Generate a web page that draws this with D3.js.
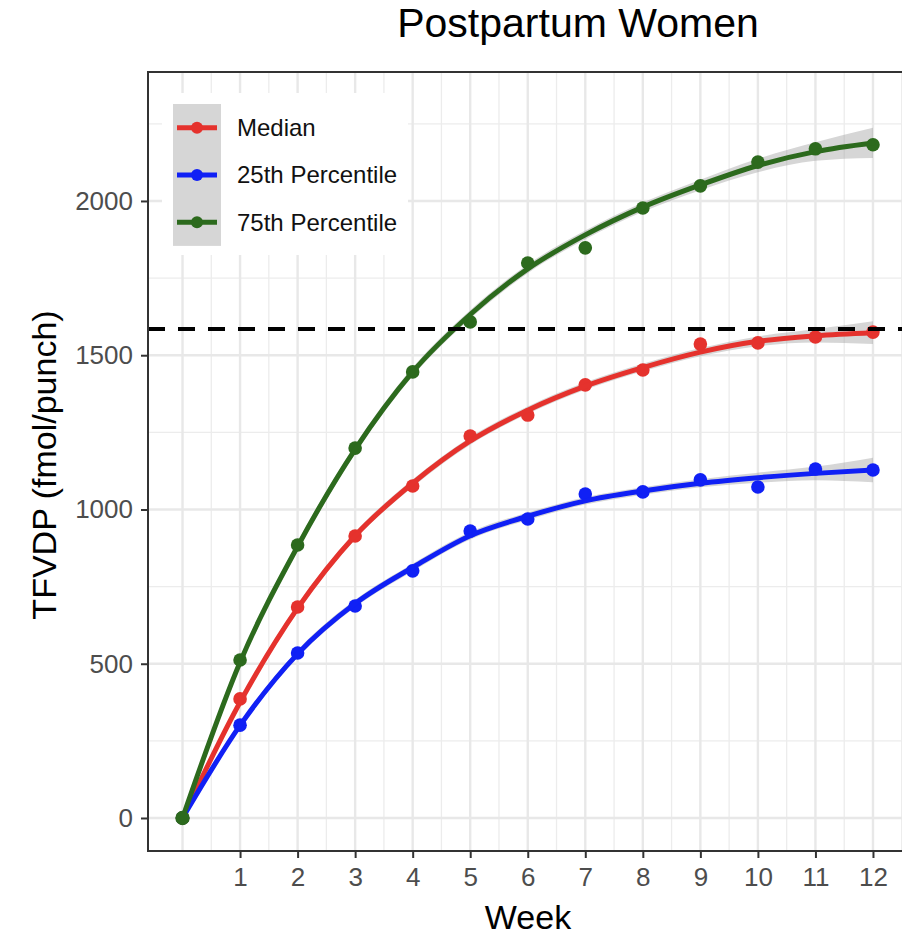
<!DOCTYPE html>
<html>
<head>
<meta charset="utf-8">
<script src="https://cdn.jsdelivr.net/npm/d3@7"></script>
<style>
  html, body { margin: 0; padding: 0; background: #fff; }
  svg { display: block; }
  text { font-family: "Liberation Sans", Arial, Helvetica, sans-serif; }
</style>
</head>
<body>
<svg id="chart" width="902" height="937"></svg>
<script>
// ---- data ----
const weeks = [0, 1, 2, 3, 4, 5, 6, 7, 8, 9, 10, 11, 12];
const xTickWeeks = [1, 2, 3, 4, 5, 6, 7, 8, 9, 10, 11, 12];
const yTicks = [0, 500, 1000, 1500, 2000];
const seriesNames = ["Median", "25th Percentile", "75th Percentile"];

// observed points
const medianPts = [0, 386, 684, 914, 1076, 1238, 1306, 1404, 1452, 1536, 1540, 1559, 1575];
const p25Pts    = [0, 301, 535, 687, 801, 930, 969, 1050, 1057, 1096, 1073, 1131, 1128];
const p75Pts    = [0, 512, 885, 1199, 1446, 1608, 1799, 1848, 1977, 2049, 2126, 2169, 2182];

// fitted (smooth) curves
const medianFit = [0, 375, 680, 915, 1085, 1222, 1322, 1400, 1460, 1510, 1545, 1563, 1573];
const p25Fit    = [0, 300, 532, 695, 812, 915, 978, 1028, 1060, 1085, 1103, 1117, 1128];
const p75Fit    = [0, 505, 880, 1195, 1446, 1632, 1780, 1890, 1980, 2052, 2115, 2160, 2188];

// standard-error band half widths
const medianSE = [0, 10, 12, 12, 12, 12, 12, 12, 12, 13, 16, 22, 37];
const p25SE    = [0, 10, 12, 12, 12, 12, 12, 12, 12, 13, 16, 22, 40];
const p75SE    = [0, 12, 14, 14, 14, 14, 14, 14, 15, 17, 22, 30, 49];

const referenceLevel = 1585;

const colors = ["#e5322d", "#1020f5", "#2c6a1d"];

// ---- layout ----
const svg = d3.select("#chart");
const panel = { left: 148, right: 907.5, top: 72, bottom: 851 };

const x = d3.scaleLinear().domain([-0.6, 12.6]).range([panel.left, panel.right]);
const y = d3.scaleLinear().domain([-107, 2418]).range([panel.bottom, panel.top]);

const defs = svg.append("defs");
defs.append("clipPath").attr("id", "clip")
  .append("rect")
  .attr("x", panel.left).attr("y", panel.top)
  .attr("width", panel.right - panel.left).attr("height", panel.bottom - panel.top);

// panel background
svg.append("rect")
  .attr("x", panel.left).attr("y", panel.top)
  .attr("width", panel.right - panel.left).attr("height", panel.bottom - panel.top)
  .attr("fill", "#fff");

const grid = svg.append("g").attr("clip-path", "url(#clip)");
const xMinorVals = d3.range(0.5, 13, 1);
const yMinorVals = d3.range(250, 2500, 500);
grid.selectAll(".xminor").data(xMinorVals).join("line")
  .attr("x1", d => x(d)).attr("x2", d => x(d))
  .attr("y1", panel.top).attr("y2", panel.bottom)
  .attr("stroke", "#ececec").attr("stroke-width", 1.3);
grid.selectAll(".yminor").data(yMinorVals).join("line")
  .attr("y1", d => y(d)).attr("y2", d => y(d))
  .attr("x1", panel.left).attr("x2", panel.right)
  .attr("stroke", "#ececec").attr("stroke-width", 1.3);
grid.selectAll(".xmajor").data([0].concat(xTickWeeks)).join("line")
  .attr("x1", d => x(d)).attr("x2", d => x(d))
  .attr("y1", panel.top).attr("y2", panel.bottom)
  .attr("stroke", "#e8e8e8").attr("stroke-width", 2.4);
grid.selectAll(".ymajor").data(yTicks).join("line")
  .attr("y1", d => y(d)).attr("y2", d => y(d))
  .attr("x1", panel.left).attr("x2", panel.right)
  .attr("stroke", "#e8e8e8").attr("stroke-width", 2.4);

// ---- series ----
const series = [
  { name: seriesNames[0], pts: medianPts, fit: medianFit, se: medianSE, color: colors[0] },
  { name: seriesNames[1], pts: p25Pts, fit: p25Fit, se: p25SE, color: colors[1] },
  { name: seriesNames[2], pts: p75Pts, fit: p75Fit, se: p75SE, color: colors[2] }
];

const plot = svg.append("g").attr("clip-path", "url(#clip)");

const area = d3.area()
  .x((d, i) => x(weeks[i]))
  .y0(d => y(d[0] - d[1]))
  .y1(d => y(d[0] + d[1]))
  .curve(d3.curveMonotoneX);
const line = d3.line()
  .x((d, i) => x(weeks[i]))
  .y(d => y(d))
  .curve(d3.curveMonotoneX);

series.forEach(s => {
  plot.append("path")
    .datum(s.fit.map((f, i) => [f, s.se[i]]))
    .attr("d", area)
    .attr("fill", "#999999").attr("fill-opacity", 0.4);
});
series.forEach(s => {
  plot.append("g").selectAll("circle").data(s.pts).join("circle")
    .attr("cx", (d, i) => x(weeks[i]))
    .attr("cy", d => y(d))
    .attr("r", 6.8)
    .attr("fill", s.color);
});
series.forEach(s => {
  plot.append("path")
    .datum(s.fit)
    .attr("d", line)
    .attr("fill", "none")
    .attr("stroke", s.color)
    .attr("stroke-width", 5)
    .attr("stroke-linecap", "round");
});
plot.append("circle")
  .attr("cx", x(weeks[0])).attr("cy", y(p75Pts[0])).attr("r", 7.2)
  .attr("fill", colors[2]);

// reference dashed line
plot.append("line")
  .attr("x1", panel.left).attr("x2", panel.right)
  .attr("y1", y(referenceLevel)).attr("y2", y(referenceLevel))
  .attr("stroke", "#000").attr("stroke-width", 4)
  .attr("stroke-dasharray", "17,13");

// panel border
svg.append("rect")
  .attr("x", panel.left).attr("y", panel.top)
  .attr("width", panel.right - panel.left).attr("height", panel.bottom - panel.top)
  .attr("fill", "none").attr("stroke", "#333").attr("stroke-width", 2);

// ---- axes ----
const xAxis = d3.axisBottom(x).tickValues(xTickWeeks).tickSize(7).tickPadding(10).tickFormat(d3.format("d"));
const gx = svg.append("g").attr("transform", `translate(0,${panel.bottom})`).call(xAxis);
gx.select(".domain").remove();
gx.selectAll(".tick line").attr("stroke", "#333").attr("stroke-width", 2);
gx.selectAll(".tick text").attr("fill", "#4d4d4d").attr("font-size", 26)
  .attr("font-family", "'Liberation Sans', Arial, sans-serif");

const yAxis = d3.axisLeft(y).tickValues(yTicks).tickSize(7).tickPadding(8).tickFormat(d3.format("d"));
const gy = svg.append("g").attr("transform", `translate(${panel.left},0)`).call(yAxis);
gy.select(".domain").remove();
gy.selectAll(".tick line").attr("stroke", "#333").attr("stroke-width", 2);
gy.selectAll(".tick text").attr("fill", "#4d4d4d").attr("font-size", 26)
  .attr("font-family", "'Liberation Sans', Arial, sans-serif");

// axis titles
svg.append("text")
  .attr("x", 528).attr("y", 929)
  .attr("text-anchor", "middle")
  .attr("font-size", 34).attr("fill", "#000")
  .text("Week");
svg.append("text")
  .attr("transform", "translate(56,465) rotate(-90)")
  .attr("text-anchor", "middle")
  .attr("font-size", 34).attr("fill", "#000")
  .text("TFVDP (fmol/punch)");

// title
svg.append("text")
  .attr("x", 578).attr("y", 37)
  .attr("text-anchor", "middle")
  .attr("font-size", 41).attr("fill", "#000")
  .text("Postpartum Women");

// ---- legend ----
const legend = svg.append("g");
legend.append("rect")
  .attr("x", 162).attr("y", 93).attr("width", 246).attr("height", 162)
  .attr("fill", "#fff");
const keyH = 47.3;
const keyTop = 104;
legend.append("rect")
  .attr("x", 173).attr("y", keyTop).attr("width", 48).attr("height", keyH * 3)
  .attr("fill", "#d6d6d6");
series.forEach((s, i) => {
  const cy = keyTop + keyH * (i + 0.5);
  legend.append("line")
    .attr("x1", 177).attr("x2", 217).attr("y1", cy).attr("y2", cy)
    .attr("stroke", s.color).attr("stroke-width", 5);
  legend.append("circle")
    .attr("cx", 197).attr("cy", cy).attr("r", 6).attr("fill", s.color);
  legend.append("text")
    .attr("x", 237).attr("y", cy + 8.5)
    .attr("font-size", 24).attr("fill", "#111")
    .text(s.name);
});
</script>
</body>
</html>
